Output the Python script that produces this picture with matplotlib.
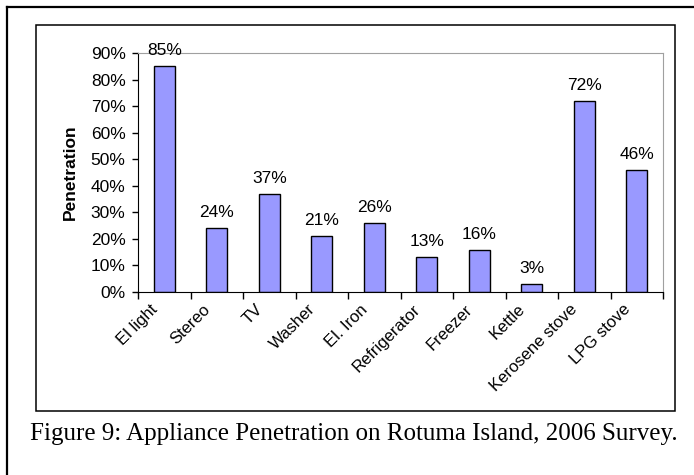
import matplotlib.pyplot as plt
from matplotlib.lines import Line2D
from matplotlib.patches import Rectangle
from matplotlib.ticker import FixedLocator, PercentFormatter

# appliance ownership shares
appliances = ['El light', 'Stereo', 'TV', 'Washer', 'El. Iron', 'Refrigerator',
              'Freezer', 'Kettle', 'Kerosene stove', 'LPG stove']
penetration = [85, 24, 37, 21, 26, 13, 16, 3, 72, 46]
caption = 'Figure 9: Appliance Penetration on Rotuma Island, 2006 Survey.'

W, H = 694, 475
fig = plt.figure(figsize=(W / 100, H / 100), dpi=100)
plt.rcParams['font.family'] = ['Liberation Sans', 'DejaVu Sans']


def fx(px):
    return px / W


def fy(py):
    return 1 - py / H


# page frame (top and left edges) and the chart box
fig.add_artist(Line2D([fx(7), 1], [fy(7), fy(7)], color='black', lw=1.6))
fig.add_artist(Line2D([fx(7), fx(7)], [fy(7), 0], color='black', lw=1.6))
fig.add_artist(Rectangle((fx(36), fy(411)), fx(675) - fx(36), fy(25) - fy(411),
                         fill=False, edgecolor='black', lw=1.1))

ax = fig.add_axes([fx(138), fy(292), fx(663) - fx(138), fy(53) - fy(292)])
x = list(range(len(appliances)))
ax.bar(x, penetration, width=0.4, color='#9999FF', edgecolor='black', linewidth=1.0)

ax.set_xlim(-0.5, len(appliances) - 0.5)
ax.set_ylim(0, 90)
ax.set_yticks(range(0, 91, 10))
ax.yaxis.set_major_formatter(PercentFormatter(decimals=0))
ax.tick_params(axis='y', labelsize=12.5, length=4, width=1, pad=5)

# tick marks sit between the categories
ax.xaxis.set_major_locator(FixedLocator([i - 0.5 for i in range(len(appliances) + 1)]))
ax.set_xticklabels([])
ax.tick_params(axis='x', length=5, width=1)

for i, name in enumerate(appliances):
    ax.annotate(name, xy=(i, 0), xycoords=('data', 'axes fraction'),
                xytext=(-9, -15), textcoords='offset pixels',
                rotation=45, rotation_mode='anchor', ha='right', va='center',
                fontsize=12)

for i, v in enumerate(penetration):
    ax.annotate(f'{v}%', xy=(i, v), xytext=(0, 8), textcoords='offset pixels',
                ha='center', va='bottom', fontsize=12.5)

for side in ('top', 'right'):
    ax.spines[side].set_color('#A0A0A0')
for side in ('left', 'bottom'):
    ax.spines[side].set_color('black')
ax.set_ylabel('Penetration', fontsize=12.5, fontweight='bold', labelpad=9)

fig.text(fx(30), fy(440), caption, family='Liberation Serif', fontsize=18,
         ha='left', va='baseline')

fig.savefig('out.png', dpi=100)
